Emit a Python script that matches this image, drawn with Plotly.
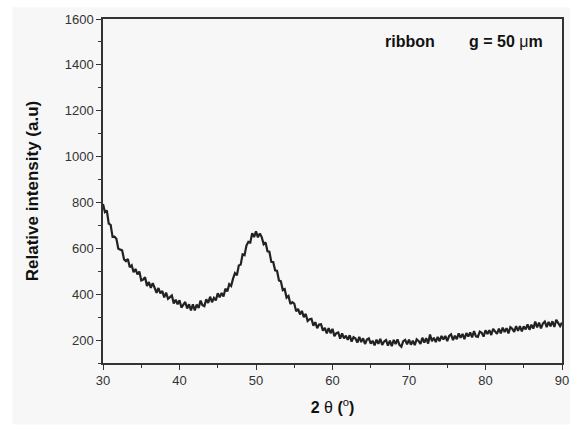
import plotly.graph_objects as go

# 2-theta grid (0.25 degree step) and intensities
theta_start = 30.0
theta_step = 0.25
intensity = [
    793, 758, 765, 708, 702, 650, 651, 642, 598, 596, 591, 552, 544, 554, 518, 526,  # 30-33.75
    496, 510, 486, 499, 460, 464, 474, 436, 453, 428, 448, 428, 406, 427, 404, 414,  # 34-37.75
    386, 407, 380, 387, 394, 360, 376, 356, 374, 342, 357, 366, 338, 356, 329, 356,  # 38-41.75
    329, 355, 340, 372, 352, 348, 378, 362, 389, 365, 384, 373, 404, 386, 405, 390,  # 42-45.75
    424, 412, 444, 436, 468, 492, 483, 525, 529, 574, 570, 612, 628, 625, 666, 649,  # 46-49.75
    674, 648, 665, 649, 618, 626, 587, 585, 541, 540, 504, 502, 460, 456, 418, 422,  # 50-53.75
    385, 392, 357, 365, 359, 326, 336, 312, 327, 300, 314, 283, 291, 293, 263, 278,  # 54-57.75
    252, 268, 269, 241, 253, 229, 252, 230, 249, 217, 230, 233, 206, 229, 207, 219,  # 58-61.75
    201, 221, 193, 213, 207, 189, 214, 191, 208, 183, 202, 207, 184, 197, 177, 202,  # 62-65.75
    184, 205, 179, 194, 200, 176, 198, 173, 201, 183, 203, 179, 171, 195, 201, 181,  # 66-69.75
    202, 180, 197, 178, 203, 196, 183, 210, 189, 208, 185, 224, 195, 210, 191, 214,  # 70-73.75
    195, 218, 203, 218, 195, 218, 225, 200, 219, 204, 229, 210, 227, 204, 231, 216,  # 74-77.75
    233, 212, 239, 216, 214, 237, 232, 215, 243, 226, 243, 222, 249, 240, 227, 250,  # 78-81.75
    229, 254, 235, 252, 229, 256, 249, 236, 261, 240, 261, 238, 260, 247, 268, 245,  # 82-85.75
    267, 250, 281, 255, 276, 251, 272, 281, 256, 279, 260, 282, 257, 288, 273, 261,  # 86-89.75
    276,                                                                             # 90
]
two_theta = [theta_start + theta_step * i for i in range(len(intensity))]

x_ticks = [30, 40, 50, 60, 70, 80, 90]
y_ticks = [200, 400, 600, 800, 1000, 1200, 1400, 1600]

FONT = "Liberation Sans, Arial, sans-serif"
AX = "#333333"

fig = go.Figure()
fig.add_trace(go.Scatter(
    x=two_theta, y=intensity, mode="lines",
    line=dict(color="#222222", width=2.2),
    showlegend=False, hoverinfo="skip",
))

# light-grey picture background
fig.add_shape(type="rect", xref="paper", yref="paper",
              x0=-0.197, x1=1.017, y0=-0.179, y1=1.034,
              fillcolor="#f7f7f7", line_width=0, layer="below")

fig.update_layout(
    width=581, height=428,
    margin=dict(l=103, r=17, t=12, b=65),
    paper_bgcolor="white", plot_bgcolor="#f7f7f7",
    font=dict(family=FONT, size=13, color=AX),
    xaxis=dict(
        range=[30, 90], tickvals=x_ticks, ticktext=[str(v) for v in x_ticks],
        ticks="outside", ticklen=5, tickwidth=1.2, tickcolor=AX,
        minor=dict(dtick=5, tick0=30, ticks="outside", ticklen=3, tickcolor=AX),
        showline=True, linecolor=AX, linewidth=1.5, mirror=True,
        showgrid=False, zeroline=False,
        tickfont=dict(size=13, color=AX),
        title=dict(text="<b>2 </b>θ <b>(</b><sup>o</sup><b>)</b>",
                   font=dict(size=16, color="#111111"), standoff=14),
    ),
    yaxis=dict(
        range=[100, 1600], tickvals=y_ticks, ticktext=[str(v) for v in y_ticks],
        ticks="outside", ticklen=5, tickwidth=1.2, tickcolor=AX,
        minor=dict(dtick=100, tick0=100, ticks="outside", ticklen=3, tickcolor=AX),
        showline=True, linecolor=AX, linewidth=1.5, mirror=True,
        showgrid=False, zeroline=False,
        tickfont=dict(size=13, color=AX),
        title=dict(text="<b>Relative intensity (a.u)</b>",
                   font=dict(size=17, color="#111111"), standoff=22),
    ),
    annotations=[
        dict(text="<b>ribbon</b>", xref="paper", yref="paper",
             x=(384 - 103) / 461, y=(363 - 35) / 351, xanchor="left", yanchor="middle",
             showarrow=False, font=dict(size=16, color="#111111")),
        dict(text="<b>g = 50 </b>μ<b>m</b>", xref="paper", yref="paper",
             x=(469 - 103) / 461, y=(363 - 35) / 351, xanchor="left", yanchor="middle",
             showarrow=False, font=dict(size=16, color="#111111")),
    ],
)

fig.write_html("out.html")
